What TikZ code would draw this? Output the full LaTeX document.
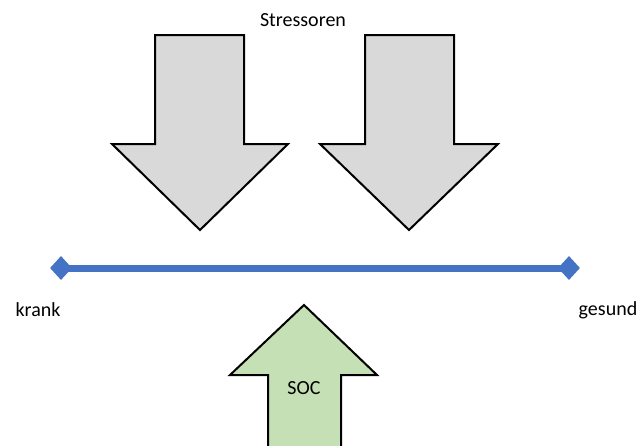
\documentclass[tikz,border=0pt]{standalone}
\usepackage{fontspec}
\setmainfont{Carlito}
\usetikzlibrary{shapes.geometric}
\definecolor{arrgray}{HTML}{D9D9D9}
\definecolor{arrgreen}{HTML}{C5E0B4}
\definecolor{lineblue}{HTML}{4472C4}
\tikzset{
  bigarrow/.style={draw=black, line width=2pt, line join=miter},
  lbl/.style={font=\fontsize{20}{24}\selectfont, inner sep=0pt},
  endmark/.style={diamond, fill=lineblue, draw=none, minimum width=22pt, minimum height=24pt, inner sep=0pt}
}
\begin{document}
\begin{tikzpicture}[x=1pt,y=-1pt]
\useasboundingbox[fill=white] (0,0) rectangle (640,445);
% stressor arrows
\draw[bigarrow, fill=arrgray] (155,35) -- (244,35) -- (244,144) -- (288,144) -- (200,230) -- (112,144) -- (155,144) -- cycle;
\draw[bigarrow, fill=arrgray] (365,35) -- (454,35) -- (454,144) -- (498,144) -- (409,230) -- (320,144) -- (365,144) -- cycle;
% SOC arrow
\draw[bigarrow, fill=arrgreen] (268,446) -- (268,375) -- (230,375) -- (304,305) -- (377,375) -- (341,375) -- (341,446);
% axis
\node[endmark] (kr) at (61,268) {};
\node[endmark] (ge) at (569,268) {};
\draw[lineblue, line width=7pt] (kr.center) -- (ge.center);
% labels
\node[lbl] (stress) at (303,20) {Stressoren};
\node[lbl] (krank) at (38,310) {krank};
\node[lbl] (gesund) at (608,310) {gesund};
\node[lbl] (soc) at (304,388) {SOC};
\end{tikzpicture}
\end{document}
